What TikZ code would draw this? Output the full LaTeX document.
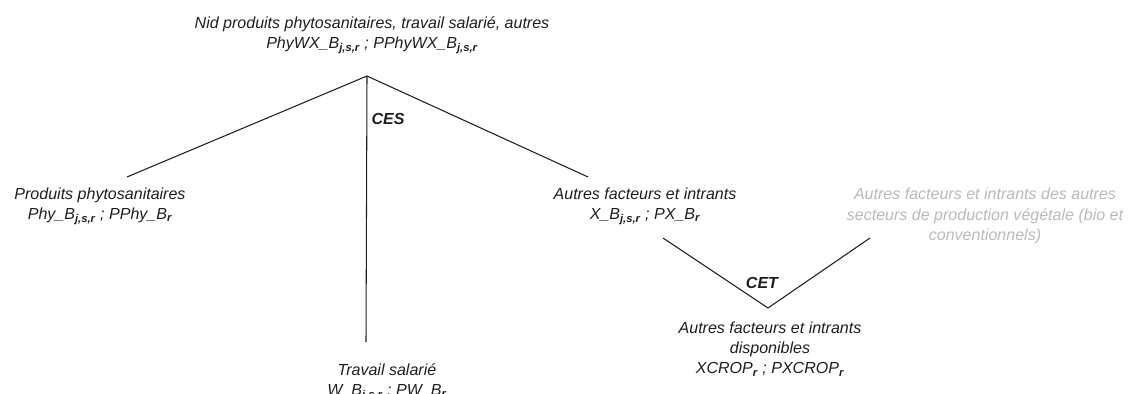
\documentclass[tikz,border=0pt]{standalone}
\usepackage{fontspec}
\setmainfont{Liberation Sans}
\definecolor{inkgrey}{RGB}{30, 30, 30}
\definecolor{palegrey}{RGB}{185, 185, 185}
\usetikzlibrary{positioning, calc}
\newcommand{\idx}[1]{\textsubscript{\bfseries #1}}

\begin{document}
\begin{tikzpicture}[
  x=0.025cm, y=-0.025cm,
  lbl/.style={align=center, inner sep=0pt, text=inkgrey, font=\fontsize{11.4}{14.4}\selectfont\itshape},
  faded/.style={lbl, text=palegrey},
  elast/.style={inner sep=0pt, text=inkgrey, font=\fontsize{11.4}{14.4}\selectfont\bfseries\itshape},
  branch/.style={draw=inkgrey, line width=0.75pt}
]
  \useasboundingbox (0,0) rectangle (1133,394);

  % labels
  \node[lbl] (nid) at (372, 35) {Nid produits phytosanitaires, travail salarié, autres\\
    PhyWX\_B\idx{j,s,r} ; PPhyWX\_B\idx{j,s,r}};
  \node[lbl] (phy) at (100, 206) {Produits phytosanitaires\\ Phy\_B\idx{j,s,r} ; PPhy\_B\idx{r}};
  \node[lbl] (autres) at (645, 206) {Autres facteurs et intrants\\ X\_B\idx{j,s,r} ; PX\_B\idx{r}};
  \node[faded] (secteurs) at (985, 216) {Autres facteurs et intrants des autres\\
    secteurs de production végétale (bio et\\ conventionnels)};
  \node[lbl] (travail) at (387, 382) {Travail salarié\\ W\_B\idx{j,s,r} ; PW\_B\idx{r}};
  \node[lbl] (xcrop) at (770, 349) {Autres facteurs et intrants\\ disponibles\\
    XCROP\idx{r} ; PXCROP\idx{r}};
  \node[elast] (ces) at (388, 119) {CES};
  \node[elast] (cet) at (762, 283) {CET};

  % tree
  \coordinate (apex) at (367, 76);
  \coordinate (phyEnd) at (127, 177);
  \coordinate (salEnd) at (366, 342);
  \coordinate (autEnd) at (588, 177);
  \draw[branch] (phyEnd) -- (apex) -- (autEnd);
  \draw[branch] (apex) -- (salEnd);

  % CET
  \coordinate (cetLeft) at (663, 238);
  \coordinate (cetDown) at (768, 308);
  \coordinate (cetRight) at (870, 238);
  \draw[branch] (cetLeft) -- (cetDown) -- (cetRight);
\end{tikzpicture}
\end{document}
